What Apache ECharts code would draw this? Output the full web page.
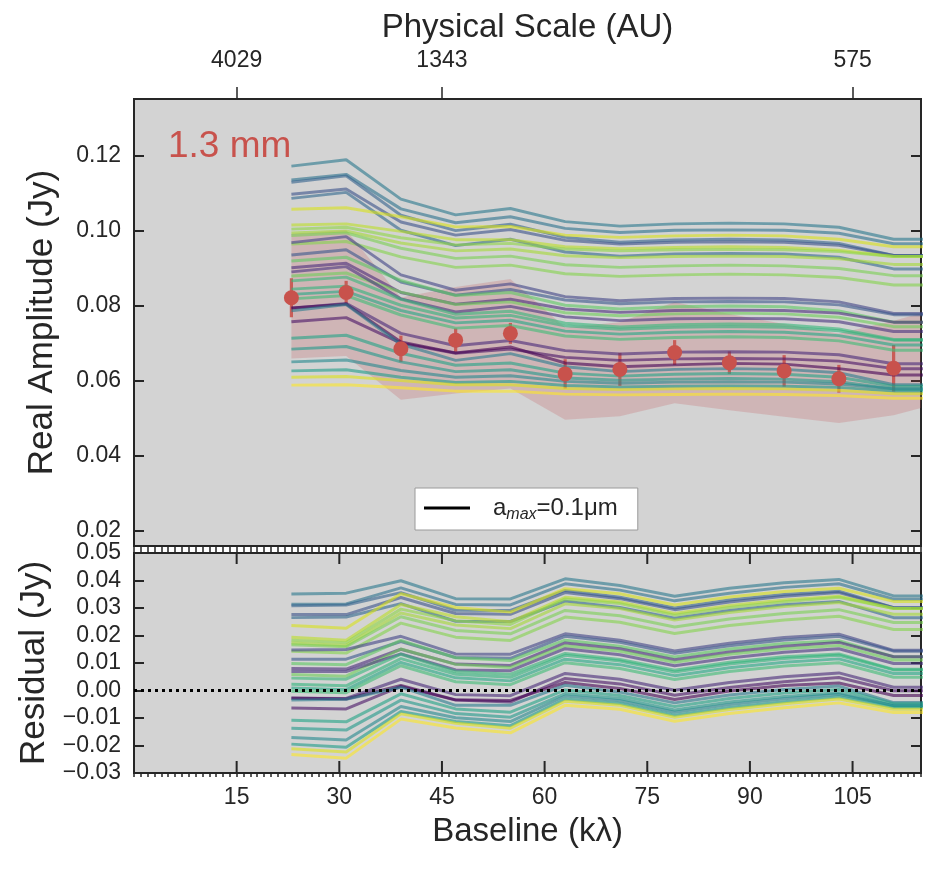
<!DOCTYPE html>
<html lang="en">
<head>
<meta charset="utf-8">
<title>Real Amplitude vs Baseline</title>
<script src="https://cdn.jsdelivr.net/npm/echarts@6/dist/echarts.min.js"></script>
<style>
  html, body { margin: 0; padding: 0; background: #fff; }
  #main { width: 938px; height: 870px; }
</style>
</head>
<body>
<div id="main"></div>
<script>
// binned data (kλ, Jy)
const baseline = [23, 31, 39, 47, 55, 63, 71, 79, 87, 95, 103, 111];
const amp = [0.0822, 0.0836, 0.0686, 0.0709, 0.0727, 0.0619, 0.0631, 0.0676, 0.0649, 0.0627, 0.0606, 0.0634];
const ampErr = [0.0052, 0.0031, 0.0035, 0.0031, 0.0028, 0.0039, 0.0044, 0.0033, 0.0030, 0.0042, 0.0037, 0.0062];

// model grid runs one bin past the right edge of the axes
const modelX = [23, 31, 39, 47, 55, 63, 71, 79, 87, 95, 103, 111, 119];

// shaded calibration band
const bandHi = [0.0993, 0.1003, 0.0823, 0.0851, 0.0872, 0.0743, 0.0757, 0.0811, 0.0779, 0.0752, 0.0727, 0.0761, 0.0800];
const bandLo = [0.0660, 0.0667, 0.0550, 0.0567, 0.0580, 0.0497, 0.0506, 0.0541, 0.0522, 0.0505, 0.0488, 0.0509, 0.0547];

// physical scale (top axis)
const scalePos = [15, 45, 105];
const scaleLabels = ['4029', '1343', '575'];
const baseTicks = [15, 30, 45, 60, 75, 90, 105];
const ampTicks = [0.02, 0.04, 0.06, 0.08, 0.10, 0.12];

// model curves (top panel) and their residuals (bottom panel)
const fitA1 = [0.1173, 0.1190, 0.1085, 0.1043, 0.1060, 0.1025, 0.1013, 0.1019, 0.1021, 0.1019, 0.1010, 0.0978, 0.0978];
const resA1 = [0.0351, 0.0354, 0.0399, 0.0334, 0.0333, 0.0406, 0.0382, 0.0343, 0.0372, 0.0392, 0.0404, 0.0344, 0.0344];
const fitA2 = [0.1136, 0.1151, 0.1059, 0.1022, 0.1038, 0.1007, 0.0996, 0.1002, 0.1003, 0.1002, 0.0994, 0.0966, 0.0966];
const resA2 = [0.0314, 0.0315, 0.0373, 0.0313, 0.0311, 0.0388, 0.0365, 0.0326, 0.0354, 0.0375, 0.0388, 0.0332, 0.0332];
const fitA3 = [0.1058, 0.1062, 0.1038, 0.1011, 0.1012, 0.0989, 0.0983, 0.0987, 0.0989, 0.0987, 0.0978, 0.0958, 0.0958];
const resA3 = [0.0236, 0.0226, 0.0352, 0.0302, 0.0285, 0.0370, 0.0352, 0.0311, 0.0340, 0.0360, 0.0372, 0.0324, 0.0324];
const fitA4 = [0.1130, 0.1147, 0.1042, 0.1001, 0.1018, 0.0983, 0.0970, 0.0976, 0.0978, 0.0976, 0.0967, 0.0935, 0.0935];
const resA4 = [0.0308, 0.0311, 0.0356, 0.0292, 0.0291, 0.0364, 0.0339, 0.0300, 0.0329, 0.0349, 0.0361, 0.0301, 0.0301];
const fitA5 = [0.1098, 0.1112, 0.1024, 0.0989, 0.1004, 0.0975, 0.0965, 0.0970, 0.0971, 0.0970, 0.0962, 0.0935, 0.0935];
const resA5 = [0.0276, 0.0276, 0.0338, 0.0280, 0.0277, 0.0356, 0.0334, 0.0294, 0.0322, 0.0343, 0.0356, 0.0301, 0.0301];
const fitA6 = [0.1016, 0.1019, 0.0999, 0.0977, 0.0977, 0.0958, 0.0953, 0.0956, 0.0958, 0.0956, 0.0949, 0.0932, 0.0932];
const resA6 = [0.0194, 0.0183, 0.0313, 0.0268, 0.0250, 0.0339, 0.0322, 0.0280, 0.0309, 0.0329, 0.0343, 0.0298, 0.0298];
const fitA7 = [0.1005, 0.1010, 0.0982, 0.0963, 0.0967, 0.0952, 0.0947, 0.0950, 0.0951, 0.0950, 0.0945, 0.0932, 0.0932];
const resA7 = [0.0183, 0.0174, 0.0296, 0.0254, 0.0240, 0.0333, 0.0316, 0.0274, 0.0302, 0.0323, 0.0339, 0.0298, 0.0298];
const fitA8 = [0.1087, 0.1103, 0.1002, 0.0961, 0.0978, 0.0944, 0.0933, 0.0939, 0.0940, 0.0939, 0.0930, 0.0899, 0.0899];
const resA8 = [0.0265, 0.0267, 0.0316, 0.0252, 0.0251, 0.0325, 0.0302, 0.0263, 0.0291, 0.0312, 0.0324, 0.0265, 0.0265];
const fitA9 = [0.0995, 0.1000, 0.0968, 0.0947, 0.0952, 0.0934, 0.0929, 0.0932, 0.0933, 0.0932, 0.0926, 0.0911, 0.0911];
const resA9 = [0.0173, 0.0164, 0.0282, 0.0238, 0.0225, 0.0315, 0.0298, 0.0256, 0.0284, 0.0305, 0.0320, 0.0277, 0.0277];
const fitA10 = [0.0988, 0.0995, 0.0954, 0.0927, 0.0933, 0.0910, 0.0903, 0.0907, 0.0909, 0.0907, 0.0900, 0.0881, 0.0881];
const resA10 = [0.0166, 0.0159, 0.0268, 0.0218, 0.0206, 0.0291, 0.0272, 0.0231, 0.0260, 0.0280, 0.0294, 0.0247, 0.0247];
const fitA11 = [0.0965, 0.0972, 0.0931, 0.0903, 0.0909, 0.0886, 0.0879, 0.0883, 0.0885, 0.0883, 0.0876, 0.0856, 0.0856];
const resA11 = [0.0143, 0.0136, 0.0245, 0.0194, 0.0182, 0.0267, 0.0248, 0.0207, 0.0236, 0.0256, 0.0270, 0.0222, 0.0222];

const fitB1 = [0.0969, 0.0985, 0.0883, 0.0842, 0.0859, 0.0825, 0.0814, 0.0820, 0.0821, 0.0820, 0.0811, 0.0780, 0.0780];
const resB1 = [0.0147, 0.0149, 0.0197, 0.0133, 0.0132, 0.0206, 0.0183, 0.0144, 0.0172, 0.0193, 0.0205, 0.0146, 0.0146];
const fitB2 = [0.0936, 0.0950, 0.0864, 0.0829, 0.0844, 0.0816, 0.0806, 0.0811, 0.0812, 0.0811, 0.0803, 0.0777, 0.0777];
const resB2 = [0.0114, 0.0114, 0.0178, 0.0120, 0.0117, 0.0197, 0.0175, 0.0135, 0.0163, 0.0184, 0.0197, 0.0143, 0.0143];
const fitB3 = [0.0920, 0.0930, 0.0868, 0.0828, 0.0836, 0.0802, 0.0792, 0.0798, 0.0800, 0.0798, 0.0787, 0.0757, 0.0757];
const resB3 = [0.0098, 0.0094, 0.0182, 0.0119, 0.0109, 0.0183, 0.0161, 0.0122, 0.0151, 0.0171, 0.0181, 0.0123, 0.0123];
const fitB4 = [0.0902, 0.0914, 0.0836, 0.0805, 0.0818, 0.0792, 0.0783, 0.0788, 0.0789, 0.0788, 0.0781, 0.0757, 0.0757];
const resB4 = [0.0080, 0.0078, 0.0150, 0.0096, 0.0091, 0.0173, 0.0152, 0.0112, 0.0140, 0.0161, 0.0175, 0.0123, 0.0123];
const fitB5 = [0.0880, 0.0888, 0.0837, 0.0804, 0.0811, 0.0782, 0.0774, 0.0779, 0.0781, 0.0779, 0.0770, 0.0745, 0.0745];
const resB5 = [0.0058, 0.0052, 0.0151, 0.0095, 0.0084, 0.0163, 0.0143, 0.0103, 0.0132, 0.0152, 0.0164, 0.0111, 0.0111];
const fitB6 = [0.0891, 0.0905, 0.0819, 0.0784, 0.0799, 0.0771, 0.0761, 0.0766, 0.0767, 0.0766, 0.0758, 0.0732, 0.0732];
const resB6 = [0.0069, 0.0069, 0.0133, 0.0075, 0.0072, 0.0152, 0.0130, 0.0090, 0.0118, 0.0139, 0.0152, 0.0098, 0.0098];
const fitB7 = [0.0867, 0.0877, 0.0818, 0.0778, 0.0786, 0.0754, 0.0744, 0.0750, 0.0752, 0.0750, 0.0739, 0.0711, 0.0711];
const resB7 = [0.0045, 0.0041, 0.0132, 0.0069, 0.0059, 0.0135, 0.0113, 0.0074, 0.0103, 0.0123, 0.0133, 0.0077, 0.0077];
const fitB8 = [0.0845, 0.0853, 0.0802, 0.0768, 0.0775, 0.0747, 0.0738, 0.0743, 0.0745, 0.0743, 0.0734, 0.0709, 0.0709];
const resB8 = [0.0023, 0.0017, 0.0116, 0.0059, 0.0048, 0.0128, 0.0107, 0.0067, 0.0096, 0.0116, 0.0128, 0.0075, 0.0075];
const fitB9 = [0.0831, 0.0839, 0.0788, 0.0755, 0.0762, 0.0733, 0.0725, 0.0730, 0.0732, 0.0730, 0.0721, 0.0696, 0.0696];
const resB9 = [0.0009, 0.0003, 0.0102, 0.0046, 0.0035, 0.0114, 0.0094, 0.0054, 0.0083, 0.0103, 0.0115, 0.0062, 0.0062];
const fitB10 = [0.0819, 0.0828, 0.0776, 0.0741, 0.0748, 0.0720, 0.0711, 0.0716, 0.0718, 0.0716, 0.0707, 0.0682, 0.0682];
const resB10 = [-0.0003, -0.0008, 0.0090, 0.0032, 0.0021, 0.0101, 0.0080, 0.0040, 0.0069, 0.0089, 0.0101, 0.0048, 0.0048];

const fitC1 = [0.0794, 0.0807, 0.0727, 0.0694, 0.0708, 0.0681, 0.0672, 0.0677, 0.0678, 0.0677, 0.0670, 0.0646, 0.0646];
const resC1 = [-0.0028, -0.0029, 0.0041, -0.0015, -0.0019, 0.0062, 0.0041, 0.0001, 0.0029, 0.0050, 0.0064, 0.0012, 0.0012];
const fitC2 = [0.0758, 0.0769, 0.0701, 0.0674, 0.0685, 0.0663, 0.0655, 0.0659, 0.0660, 0.0659, 0.0653, 0.0633, 0.0633];
const resC2 = [-0.0064, -0.0067, 0.0015, -0.0035, -0.0042, 0.0044, 0.0024, -0.0017, 0.0011, 0.0032, 0.0047, -0.0001, -0.0001];
const fitC3 = [0.0795, 0.0805, 0.0704, 0.0675, 0.0691, 0.0648, 0.0638, 0.0643, 0.0647, 0.0645, 0.0633, 0.0616, 0.0616];
const resC3 = [-0.0027, -0.0031, 0.0018, -0.0034, -0.0036, 0.0029, 0.0007, -0.0033, -0.0002, 0.0018, 0.0027, -0.0018, -0.0018];
const fitC4 = [0.0787, 0.0804, 0.0698, 0.0655, 0.0673, 0.0638, 0.0625, 0.0631, 0.0633, 0.0631, 0.0622, 0.0590, 0.0590];
const resC4 = [-0.0035, -0.0032, 0.0012, -0.0054, -0.0054, 0.0019, -0.0006, -0.0045, -0.0016, 0.0004, 0.0016, -0.0044, -0.0044];
const fitC5 = [0.0714, 0.0722, 0.0674, 0.0642, 0.0648, 0.0621, 0.0613, 0.0618, 0.0620, 0.0618, 0.0610, 0.0586, 0.0586];
const resC5 = [-0.0108, -0.0114, -0.0012, -0.0067, -0.0079, 0.0002, -0.0018, -0.0058, -0.0029, -0.0009, 0.0004, -0.0048, -0.0048];
const fitC6 = [0.0685, 0.0692, 0.0651, 0.0625, 0.0630, 0.0608, 0.0602, 0.0605, 0.0607, 0.0605, 0.0598, 0.0579, 0.0579];
const resC6 = [-0.0137, -0.0144, -0.0035, -0.0084, -0.0097, -0.0011, -0.0029, -0.0071, -0.0042, -0.0022, -0.0008, -0.0055, -0.0055];
const fitC7 = [0.0651, 0.0656, 0.0628, 0.0610, 0.0614, 0.0599, 0.0594, 0.0597, 0.0598, 0.0597, 0.0592, 0.0579, 0.0579];
const resC7 = [-0.0171, -0.0180, -0.0058, -0.0099, -0.0113, -0.0020, -0.0037, -0.0079, -0.0051, -0.0030, -0.0014, -0.0055, -0.0055];
const fitC8 = [0.0627, 0.0630, 0.0610, 0.0596, 0.0599, 0.0588, 0.0584, 0.0586, 0.0587, 0.0586, 0.0583, 0.0573, 0.0573];
const resC8 = [-0.0195, -0.0206, -0.0076, -0.0113, -0.0128, -0.0031, -0.0047, -0.0090, -0.0062, -0.0041, -0.0023, -0.0061, -0.0061];
const fitC9 = [0.0610, 0.0612, 0.0601, 0.0590, 0.0590, 0.0580, 0.0577, 0.0579, 0.0580, 0.0579, 0.0575, 0.0566, 0.0566];
const resC9 = [-0.0212, -0.0224, -0.0085, -0.0119, -0.0137, -0.0039, -0.0054, -0.0097, -0.0069, -0.0048, -0.0031, -0.0068, -0.0068];
const fitC10 = [0.0589, 0.0590, 0.0582, 0.0573, 0.0573, 0.0565, 0.0563, 0.0564, 0.0565, 0.0564, 0.0561, 0.0554, 0.0554];
const resC10 = [-0.0233, -0.0246, -0.0104, -0.0136, -0.0154, -0.0054, -0.0068, -0.0112, -0.0084, -0.0063, -0.0045, -0.0080, -0.0080];

const fits = [fitA1, fitA2, fitA4, fitA5, fitA8, fitA3, fitA6, fitA7, fitA9, fitA10, fitA11,
  fitB1, fitB2, fitB3, fitB4, fitB5, fitB6, fitB7, fitB8, fitB9, fitB10,
  fitC1, fitC2, fitC3, fitC4, fitC5, fitC6, fitC7, fitC8, fitC9, fitC10];
const resids = [resA1, resA2, resA4, resA5, resA8, resA3, resA6, resA7, resA9, resA10, resA11,
  resB1, resB2, resB3, resB4, resB5, resB6, resB7, resB8, resB9, resB10,
  resC1, resC2, resC3, resC4, resC5, resC6, resC7, resC8, resC9, resC10];
// viridis shades, one per curve
const curveColors = ['#2a788e', '#2c728e', '#33638d', '#3b528b', '#31688e', '#d8e219', '#bddf26', '#8fd744', '#a5db36', '#7ad151', '#84d44b',
  '#414487', '#39568c', '#5ec962', '#472c7a', '#6ece58', '#46337f', '#35b779', '#2fb47c', '#22a884', '#3dbc74',
  '#482878', '#471365', '#440154', '#287c8e', '#20a386', '#1f9a8a', '#23898e', '#1e9c89', '#dde318', '#fde725'];

const FONT = '"Liberation Sans", Arial, Helvetica, sans-serif';
const INK = '#262626';
const RED = '#c8524c';

var myChart = echarts.init(document.getElementById('main'), null, { renderer: 'canvas' });

function pairs(xs, ys) {
  return xs.map(function (x, i) { return [x, ys[i]]; });
}

var series = [];

// calibration band
series.push({
  type: 'custom', xAxisIndex: 0, yAxisIndex: 0, clip: true, silent: true, z: 1,
  data: [0],
  renderItem: function (params, api) {
    var pts = [];
    for (var i = 0; i < modelX.length; i++) pts.push(api.coord([modelX[i], bandHi[i]]));
    for (var j = modelX.length - 1; j >= 0; j--) pts.push(api.coord([modelX[j], bandLo[j]]));
    return { type: 'polygon', shape: { points: pts }, style: { fill: 'rgba(196,78,82,0.22)' } };
  }
});

// error bars
series.push({
  type: 'custom', xAxisIndex: 0, yAxisIndex: 0, silent: true, z: 2,
  data: baseline.map(function (b, i) { return [b, amp[i], ampErr[i]]; }),
  encode: { x: 0, y: 1 },
  renderItem: function (params, api) {
    var x = api.value(0), y = api.value(1), e = api.value(2);
    var p1 = api.coord([x, y - e]), p2 = api.coord([x, y + e]);
    return { type: 'line', shape: { x1: p1[0], y1: p1[1], x2: p2[0], y2: p2[1] },
      style: { stroke: RED, lineWidth: 3.2, opacity: 0.9 } };
  }
});

for (var k = 0; k < fits.length; k++) {
  series.push({
    type: 'line', xAxisIndex: 0, yAxisIndex: 0, data: pairs(modelX, fits[k]),
    showSymbol: false, symbol: 'none', silent: true, z: 3,
    lineStyle: { width: 3, color: curveColors[k], opacity: 0.6 }
  });
  series.push({
    type: 'line', xAxisIndex: 2, yAxisIndex: 2, data: pairs(modelX, resids[k]),
    showSymbol: false, symbol: 'none', silent: true, z: 3,
    lineStyle: { width: 3, color: curveColors[k], opacity: 0.6 }
  });
}

// data points
series.push({
  type: 'scatter', xAxisIndex: 0, yAxisIndex: 0, data: pairs(baseline, amp),
  symbol: 'circle', symbolSize: 15, itemStyle: { color: RED, opacity: 1 }, silent: true, z: 5
});

// zero line in residual panel
series.push({
  type: 'line', xAxisIndex: 2, yAxisIndex: 2, data: [], z: 6, silent: true,
  markLine: {
    silent: true, symbol: ['none', 'none'], label: { show: false },
    lineStyle: { color: '#000', type: [3, 4], width: 3 },
    data: [{ yAxis: 0 }]
  }
});

// inward major baseline ticks on the residual panel's top and bottom edges
series.push({
  type: 'custom', xAxisIndex: 2, yAxisIndex: 2, silent: true, z: 7,
  data: baseTicks.map(function (v) { return [v, 0]; }),
  encode: { x: 0, y: 1 },
  renderItem: function (params, api) {
    var x = api.coord([api.value(0), 0])[0];
    var cs = params.coordSys;
    var top = cs.y, bot = cs.y + cs.height;
    return {
      type: 'group',
      children: [
        { type: 'line', shape: { x1: x, y1: bot, x2: x, y2: bot - 12 }, style: { stroke: INK, lineWidth: 2 } },
        { type: 'line', shape: { x1: x, y1: top, x2: x, y2: top + 11 }, style: { stroke: INK, lineWidth: 2 } }
      ]
    };
  }
});

// legend entry only
series.push({ type: 'line', name: 'amax', data: [], color: '#000', xAxisIndex: 0, yAxisIndex: 0 });

var nameStyle = { color: INK, fontSize: 33, fontFamily: FONT };
var yNameStyle = { color: INK, fontSize: 35, fontFamily: FONT };
var tickStyle = { color: INK, width: 2 };

function fmtResid(v) {
  if (Math.abs(v) < 1e-9) return '0.00';
  return v < 0 ? '\u2212' + Math.abs(v).toFixed(2) : v.toFixed(2);
}

// bare axis that only contributes fine outward ticks, every 1 kλ
function tickAxis(grid, pos) {
  return {
    gridIndex: grid, type: 'value', position: pos, min: 0, max: 115, interval: 1,
    axisLine: { show: false, onZero: false }, axisLabel: { show: false }, splitLine: { show: false },
    axisTick: { show: true, inside: false, length: 4, lineStyle: { color: INK, width: 1.5 } }
  };
}

var option = {
  animation: false,
  backgroundColor: '#ffffff',
  grid: [
    { left: 134, right: 17, top: 99, height: 447, show: true, backgroundColor: '#d3d3d3', borderColor: INK, borderWidth: 2 },
    { left: 134, right: 17, top: 553, height: 220, show: true, backgroundColor: '#d3d3d3', borderColor: INK, borderWidth: 2 }
  ],
  legend: {
    data: [{ name: 'amax', icon: 'rect' }],
    left: 415, top: 488,
    itemWidth: 46, itemHeight: 3,
    padding: [8, 20, 7, 9],
    backgroundColor: '#ffffff', borderColor: '#9a9a9a', borderWidth: 1, borderRadius: 0,
    selectedMode: false,
    formatter: function () { return '{t|a}{s|max}{t|=0.1\u03bcm}'; },
    textStyle: {
      padding: [0, 0, 0, 18],
      rich: {
        t: { fontSize: 24, lineHeight: 30, fontFamily: FONT, color: INK },
        s: { fontSize: 16, lineHeight: 30, fontStyle: 'italic', fontFamily: FONT, color: INK, verticalAlign: 'bottom' }
      }
    }
  },
  graphic: [{
    type: 'text', left: 168, top: 128, silent: true,
    style: { text: '1.3 mm', fill: RED, font: '37px ' + FONT }
  }],
  xAxis: [
    // 0: top panel, fine ticks under the frame
    tickAxis(0, 'bottom'),
    { // 1: physical scale
      gridIndex: 0, type: 'value', position: 'top', min: 0, max: 115,
      axisLine: { show: false, onZero: false }, splitLine: { show: false },
      axisTick: { show: true, inside: false, length: 12, customValues: scalePos, lineStyle: { color: INK, width: 1.5 } },
      axisLabel: { customValues: scalePos, margin: 27, formatter: function (v) { return scaleLabels[scalePos.indexOf(v)]; }, color: INK, fontSize: 23, fontFamily: FONT },
      name: 'Physical Scale (AU)', nameLocation: 'middle', nameGap: 46, nameTextStyle: nameStyle
    },
    { // 2: residual panel, baseline labels
      gridIndex: 1, type: 'value', position: 'bottom', min: 0, max: 115,
      axisLine: { show: false, onZero: false }, splitLine: { show: false }, axisTick: { show: false },
      axisLabel: { customValues: baseTicks, margin: 13, color: INK, fontSize: 23, fontFamily: FONT },
      name: 'Baseline (k\u03bb)', nameLocation: 'middle', nameGap: 42, nameTextStyle: nameStyle
    },
    tickAxis(1, 'bottom'),
    tickAxis(1, 'top')
  ],
  yAxis: [
    {
      gridIndex: 0, type: 'value', position: 'left', min: 0.016, max: 0.1352,
      axisLine: { show: false, onZero: false }, splitLine: { show: false },
      axisTick: { show: true, inside: true, length: 10, customValues: ampTicks, lineStyle: tickStyle },
      axisLabel: { customValues: ampTicks, margin: 13, formatter: function (v) { return v.toFixed(2); }, color: INK, fontSize: 23, fontFamily: FONT },
      name: 'Real Amplitude (Jy)', nameLocation: 'middle', nameGap: 74, nameTextStyle: yNameStyle
    },
    {
      gridIndex: 0, type: 'value', position: 'right', min: 0.016, max: 0.1352,
      axisLine: { show: false, onZero: false }, splitLine: { show: false }, axisLabel: { show: false },
      axisTick: { show: true, inside: true, length: 10, customValues: ampTicks, lineStyle: tickStyle }
    },
    {
      gridIndex: 1, type: 'value', position: 'left', min: -0.03, max: 0.05, interval: 0.01,
      axisLine: { show: false, onZero: false }, splitLine: { show: false },
      axisTick: { show: true, inside: true, length: 10, lineStyle: tickStyle },
      axisLabel: { margin: 13, formatter: fmtResid, color: INK, fontSize: 23, fontFamily: FONT },
      name: 'Residual (Jy)', nameLocation: 'middle', nameGap: 74, nameTextStyle: yNameStyle
    },
    {
      gridIndex: 1, type: 'value', position: 'right', min: -0.03, max: 0.05, interval: 0.01,
      axisLine: { show: false, onZero: false }, splitLine: { show: false }, axisLabel: { show: false },
      axisTick: { show: true, inside: true, length: 10, lineStyle: tickStyle }
    }
  ],
  series: series
};

myChart.setOption(option);
</script>
</body>
</html>
